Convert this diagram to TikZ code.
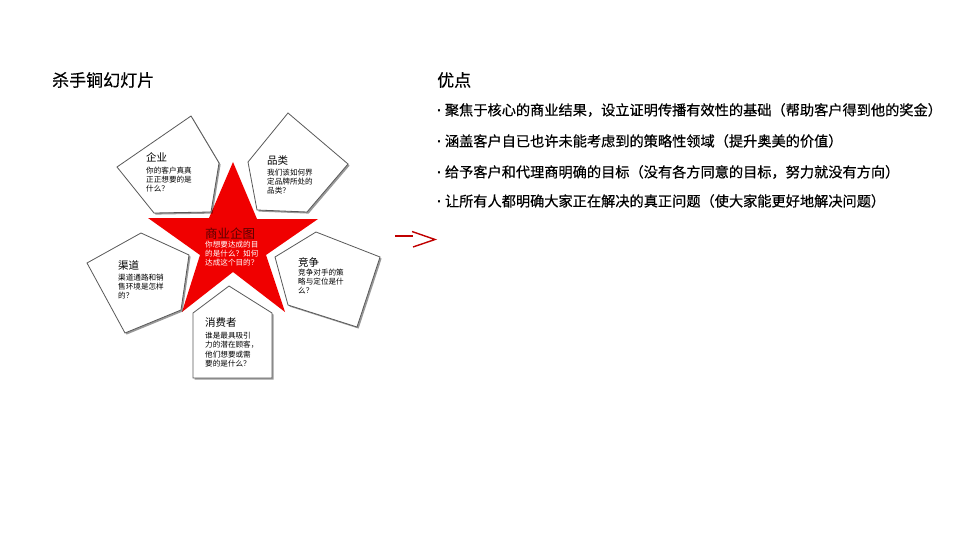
\documentclass[tikz,border=0pt]{standalone}
\usepackage{fontspec}
\setmainfont{Noto Sans CJK SC}
\newfontfamily\cjkbold[FakeBold=0.5]{Noto Sans CJK SC}
\newfontfamily\latinfont{Liberation Sans}
\usetikzlibrary{shadows}
\definecolor{starred}{HTML}{F00000}
\definecolor{darkhead}{HTML}{5A0000}
\definecolor{arrowred}{HTML}{C00000}
\newcommand{\bdot}{{\latinfont\bfseries ·}\hspace{3pt}}
\begin{document}
\begin{tikzpicture}[x=1pt,y=-1pt,
  pent/.style={draw=black!65, line width=0.8pt, fill=white,
    drop shadow={shadow xshift=1.6pt, shadow yshift=-1.6pt, opacity=0.4, fill=black}},
  head/.style={anchor=west, inner sep=0pt, font=\fontsize{10.5}{12}\selectfont},
  body/.style={anchor=north west, inner sep=0pt, align=left, font=\fontsize{7.6}{9.3}\selectfont},
  title/.style={anchor=west, inner sep=0pt, font=\cjkbold\fontsize{17}{20}\selectfont},
  bullet/.style={anchor=west, inner sep=0pt, font=\cjkbold\fontsize{14.2}{16}\selectfont}]
\useasboundingbox (0,0) rectangle (960,540);
\fill[white] (0,0) rectangle (960,540);

% titles
\node[title] (t1) at (52,80) {杀手锏幻灯片};
\node[title] (t2) at (437,80) {优点};
\node[bullet] (b1) at (437,110) {\bdot 聚焦于核心的商业结果，设立证明传播有效性的基础（帮助客户得到他的奖金）};
\node[bullet] (b2) at (437,141) {\bdot 涵盖客户自已也许未能考虑到的策略性领域（提升奥美的价值）};
\node[bullet] (b3) at (437,172) {\bdot 给予客户和代理商明确的目标（没有各方同意的目标，努力就没有方向）};
\node[bullet] (b4) at (437,201) {\bdot 让所有人都明确大家正在解决的真正问题（使大家能更好地解决问题）};

% star
\fill[starred] (233,162) -- (257,219) -- (318,219) -- (266,255) -- (285,312)
  -- (233,272) -- (182,312) -- (200,255) -- (148,218) -- (209,218) -- cycle;

% pentagons
\draw[pent] (117,167) -- (191,116) -- (219,163) -- (211,212) -- (154,213) -- cycle;
\draw[pent] (248,162) -- (288,113) -- (348,164) -- (307,212) -- (257,210) -- cycle;
\draw[pent] (87,263) -- (141,233) -- (189,255) -- (181,310) -- (125,333) -- cycle;
\draw[pent] (275,257) -- (316,232) -- (380,257) -- (357,327) -- (288,305) -- cycle;
\draw[pent] (193,313) -- (229,286) -- (272,313) -- (272,378) -- (193,378) -- cycle;

% texts
\node[head] (h1) at (146,157) {企业};
\node[body] (d1) at (146,166.5) {你的客户真真\\正正想要的是\\什么？};
\node[head] (h2) at (267,161) {品类};
\node[body] (d2) at (267,168.5) {我们该如何界\\定品牌所处的\\品类？};
\node[head, text=darkhead, font=\fontsize{12.5}{14}\selectfont] (h0) at (205,234) {商业企图};
\node[body, text=white] (d0) at (205,240.5) {你想要达成的目\\的是什么？如何\\达成这个目的？};
\node[head] (h3) at (118,265) {渠道};
\node[body] (d3) at (118,273.5) {渠道通路和销\\售环境是怎样\\的？};
\node[head] (h4) at (298,262) {竞争};
\node[body] (d4) at (298,268.5) {竞争对手的策\\略与定位是什\\么？};
\node[head] (h5) at (205,323) {消费者};
\node[body] (d5) at (205,332) {谁是最具吸引\\力的潜在顾客，\\他们想要或需\\要的是什么？};

% arrow
\coordinate (a0) at (395,236);
\coordinate (a1) at (413,236);
\coordinate (a2) at (412,231.5);
\coordinate (a3) at (435,239.5);
\coordinate (a4) at (413,247);
\draw[arrowred, line width=1.4pt] (a0) -- (a1);
\draw[arrowred, line width=1.4pt, line join=miter] (a2) -- (a3) -- (a4);
\end{tikzpicture}
\end{document}
